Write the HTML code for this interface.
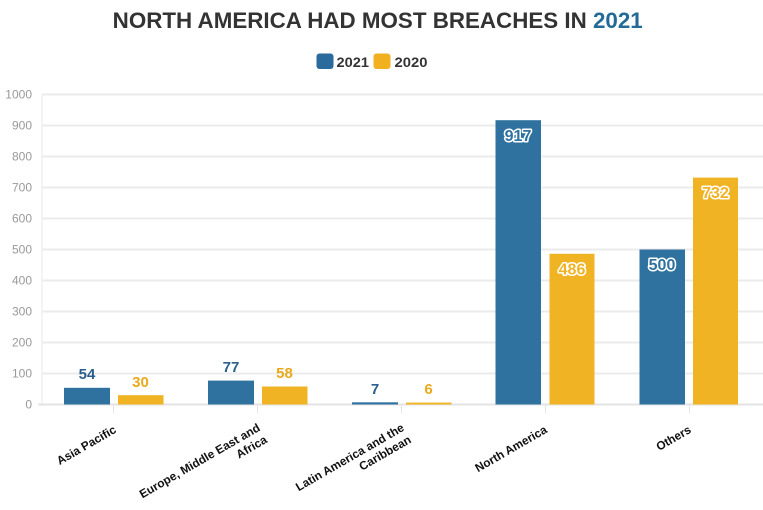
<!DOCTYPE html>
<html><head><meta charset="utf-8"><style>
html,body{margin:0;padding:0;background:#fff;}
svg{display:block;}
text{font-family:"Liberation Sans",Arial,sans-serif;}
</style></head><body>
<svg width="763" height="510" viewBox="0 0 763 510" xmlns="http://www.w3.org/2000/svg">
<rect width="763" height="510" fill="#fff"/>
<!-- title -->
<text x="112.7" y="28" font-size="22" font-weight="bold" fill="#333" textLength="530" lengthAdjust="spacingAndGlyphs">NORTH AMERICA HAD MOST BREACHES IN <tspan fill="#236a97">2021</tspan></text>
<!-- legend -->
<rect x="316.5" y="53.5" width="17" height="15.5" rx="3" fill="#2a6a9c"/>
<text x="336.5" y="67" font-size="14" font-weight="bold" fill="#333" textLength="32.5" lengthAdjust="spacingAndGlyphs">2021</text>
<rect x="373.5" y="53.5" width="17" height="15.5" rx="3" fill="#f0b020"/>
<text x="394.5" y="67" font-size="14" font-weight="bold" fill="#333" textLength="33" lengthAdjust="spacingAndGlyphs">2020</text>
<!-- gridlines -->
<g stroke="#ebebeb" stroke-width="2">
<line x1="42" y1="94.5" x2="763" y2="94.5"/>
<line x1="42" y1="125.5" x2="763" y2="125.5"/>
<line x1="42" y1="156.5" x2="763" y2="156.5"/>
<line x1="42" y1="187.5" x2="763" y2="187.5"/>
<line x1="42" y1="218.5" x2="763" y2="218.5"/>
<line x1="42" y1="249.5" x2="763" y2="249.5"/>
<line x1="42" y1="280.5" x2="763" y2="280.5"/>
<line x1="42" y1="311.5" x2="763" y2="311.5"/>
<line x1="42" y1="342.5" x2="763" y2="342.5"/>
<line x1="42" y1="373.5" x2="763" y2="373.5"/>
</g>
<line x1="42" y1="94" x2="42" y2="405" stroke="#f0f0f0" stroke-width="1.5"/>
<line x1="38" y1="404.5" x2="763" y2="404.5" stroke="#e3e3e3" stroke-width="2"/>
<!-- category ticks -->
<g stroke="#e6e6e6" stroke-width="1">
<line x1="113.5" y1="405" x2="113.5" y2="413"/>
<line x1="257.5" y1="405" x2="257.5" y2="413"/>
<line x1="401.5" y1="405" x2="401.5" y2="413"/>
<line x1="545.5" y1="405" x2="545.5" y2="413"/>
<line x1="689.5" y1="405" x2="689.5" y2="413"/>
</g>
<!-- y labels -->
<g font-size="12" fill="#999" text-anchor="end">
<text x="32" y="98.5">1000</text>
<text x="32" y="129.5">900</text>
<text x="32" y="160.5">800</text>
<text x="32" y="191.5">700</text>
<text x="32" y="222.5">600</text>
<text x="32" y="253.5">500</text>
<text x="32" y="284.5">400</text>
<text x="32" y="315.5">300</text>
<text x="32" y="346.5">200</text>
<text x="32" y="377.5">100</text>
<text x="32" y="408.5">0</text>
</g>
<!-- bars -->
<g fill="#2f72a0">
<rect x="64" y="387.8" width="46" height="16.7"/>
<rect x="208" y="380.6" width="46" height="23.9"/>
<rect x="352" y="402.3" width="46" height="2.2"/>
<rect x="495.5" y="120.2" width="45.5" height="284.3"/>
<rect x="639.5" y="249.5" width="45.5" height="155"/>
</g>
<g fill="#f0b323">
<rect x="118" y="395.2" width="45.5" height="9.3"/>
<rect x="262" y="386.5" width="45.5" height="18"/>
<rect x="406" y="402.6" width="45.5" height="1.9"/>
<rect x="549.5" y="253.8" width="45" height="150.7"/>
<rect x="693" y="177.6" width="45" height="226.9"/>
</g>
<!-- outside labels -->
<g font-size="15" font-weight="bold" text-anchor="middle">
<text x="87" y="379" fill="#2a5f8c">54</text>
<text x="140.5" y="387" fill="#eaa91c">30</text>
<text x="231" y="372" fill="#2a5f8c">77</text>
<text x="284.5" y="378" fill="#eaa91c">58</text>
<text x="375" y="394" fill="#2a5f8c">7</text>
<text x="428.5" y="394" fill="#eaa91c">6</text>
</g>
<!-- inside labels -->
<g font-size="16" font-weight="bold" text-anchor="middle" stroke="#fff" stroke-width="3" stroke-linejoin="round" paint-order="stroke">
<text x="518" y="141" fill="#2f72a0">917</text>
<text x="572" y="274.5" fill="#f0b323">486</text>
<text x="662" y="270" fill="#2f72a0">500</text>
<text x="715.5" y="198" fill="#f0b323">732</text>
</g>
<!-- x labels -->
<g font-size="11.8" font-weight="bold" fill="#111" text-anchor="end">
<text transform="translate(117,432) rotate(-30)">Asia Pacific</text>
<text transform="translate(261,430) rotate(-30)">Europe, Middle East and</text>
<text transform="translate(268,442) rotate(-30)">Africa</text>
<text transform="translate(405,430) rotate(-30)">Latin America and the</text>
<text transform="translate(412,442) rotate(-30)">Caribbean</text>
<text transform="translate(548,432) rotate(-30)">North America</text>
<text transform="translate(692,432) rotate(-30)">Others</text>
</g>
</svg>
</body></html>
